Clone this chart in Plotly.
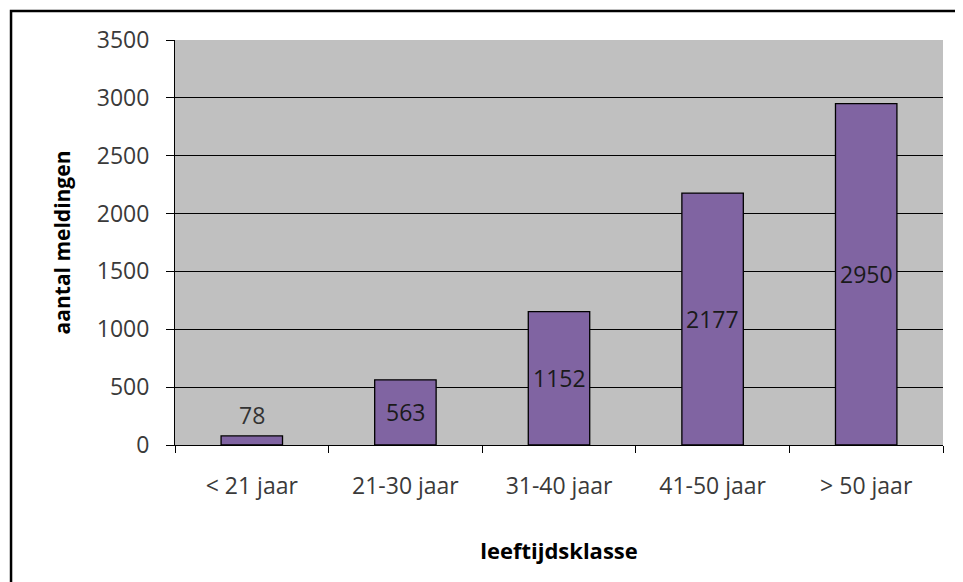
import plotly.graph_objects as go

categories = ["< 21 jaar", "21-30 jaar", "31-40 jaar", "41-50 jaar", "> 50 jaar"]
values = [78, 563, 1152, 2177, 2950]
y_ticks = [0, 500, 1000, 1500, 2000, 2500, 3000, 3500]
x_title = "leeftijdsklasse"
y_title = "aantal meldingen"

FONT = "Open Sans"
BAR = "#8064A2"

fig = go.Figure()
fig.add_trace(go.Bar(
    x=categories, y=values, width=0.4,
    marker=dict(color=BAR, line=dict(color="#000000", width=1.3)),
    hoverinfo="x+y",
))

# data labels: centred in the bar, above the bar when the bar is too short
for c, v in zip(categories, values):
    if v < 300:
        fig.add_annotation(x=c, y=v, text=str(v), showarrow=False,
                           yanchor="bottom", yshift=3,
                           font=dict(family=FONT, size=23, color="#333333"))
    else:
        fig.add_annotation(x=c, y=v / 2, text=str(v), showarrow=False,
                           yanchor="middle",
                           font=dict(family=FONT, size=23, color="#1a1a1a"))

# outer chart frame (cut off at right and bottom as in the reference)
fig.add_shape(type="rect", xref="paper", yref="paper",
              x0=-0.2135, x1=1.06, y0=-0.45, y1=1.0716,
              line=dict(color="#000000", width=2.5), fillcolor="rgba(0,0,0,0)",
              layer="below")

# the page body adds an 8px offset, so the figure is sized to the remaining area
fig.update_layout(
    width=955, height=574,
    margin=dict(l=167, r=20, t=32, b=137),
    paper_bgcolor="#ffffff",
    plot_bgcolor="#C0C0C0",
    showlegend=False,
    bargap=0.6,
    font=dict(family=FONT, color="#3a3a3a"),
    xaxis=dict(
        type="category",
        tickson="boundaries",
        ticks="outside", ticklen=7, tickcolor="#000000", tickwidth=1,
        showgrid=False,
        showline=True, linecolor="#000000", linewidth=1,
        tickfont=dict(family=FONT, size=23, color="#3a3a3a"),
        ticklabelstandoff=20,
        title=dict(text="<b>" + x_title + "</b>",
                   font=dict(family=FONT, size=22, color="#000000"),
                   standoff=44),
    ),
    yaxis=dict(
        range=[0, 3500],
        tickvals=y_ticks,
        ticks="outside", ticklen=8, tickcolor="#000000", tickwidth=1,
        showgrid=True, gridcolor="#000000", gridwidth=1,
        showline=True, linecolor="#000000", linewidth=1,
        zeroline=False,
        tickfont=dict(family=FONT, size=23, color="#3a3a3a"),
        ticklabelstandoff=12,
        title=dict(text="<b>" + y_title + "</b>",
                   font=dict(family=FONT, size=21, color="#000000"),
                   standoff=20),
    ),
)

fig.write_html("out.html")
